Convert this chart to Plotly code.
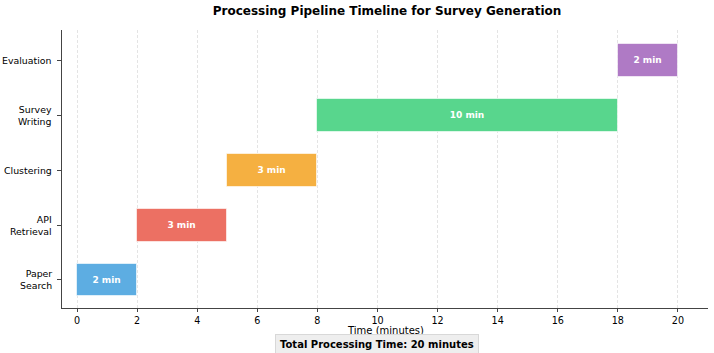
import plotly.graph_objects as go

stages = ["Paper<br>Search", "API<br>Retrieval", "Clustering", "Survey<br>Writing", "Evaluation"]
starts = [0, 2, 5, 8, 18]
durations = [2, 3, 3, 10, 2]
colors = ["#5DADE2", "#EC7063", "#F5B041", "#58D68D", "#AF7AC5"]
total = sum(durations)

fig = go.Figure()
fig.add_trace(go.Bar(
    y=list(range(len(stages))),
    x=durations,
    base=starts,
    orientation="h",
    width=0.6,
    marker=dict(color=colors, line=dict(color="rgba(255,255,255,0.6)", width=1)),
    text=[f"<b>{d} min</b>" for d in durations],
    textposition="inside",
    insidetextanchor="middle",
    textfont=dict(color="white", size=9, family="DejaVu Sans"),
    showlegend=False,
    hoverinfo="skip",
))

# category labels, right aligned like the original
for i, s in enumerate(stages):
    fig.add_annotation(
        text=s, xref="paper", yref="y", x=0, y=i, xanchor="right", yanchor="middle",
        xshift=-8, align="right", showarrow=False, font=dict(size=9.4, color="black"),
    )

fig.update_layout(
    width=714, height=353,
    margin=dict(l=62, r=6, t=30, b=45),
    paper_bgcolor="white", plot_bgcolor="white",
    font=dict(family="DejaVu Sans", size=10, color="black"),
    title=dict(text="<b>Processing Pipeline Timeline for Survey Generation</b>",
               x=0.542, xanchor="center", y=0.968, yanchor="middle",
               font=dict(size=12)),
    bargap=0,
)
fig.update_xaxes(
    range=[-0.5, 21], tickvals=list(range(0, 21, 2)),
    showgrid=True, gridcolor="#e4e4e4", griddash="3px,2px", gridwidth=1,
    showline=True, linecolor="#444", linewidth=1.2, mirror=False,
    ticks="outside", ticklen=3, tickcolor="#444", tickfont=dict(size=9.6),
    zeroline=False, automargin=False, layer="above traces",
)
fig.update_yaxes(
    range=[-0.51, 4.55],
    tickvals=list(range(len(stages))), showticklabels=False,
    showgrid=False, zeroline=False, automargin=False,
    showline=True, linecolor="#444", linewidth=1.2,
    ticks="outside", ticklen=4, tickcolor="#444",
)
# x axis title
fig.add_annotation(
    text="Time (minutes)", xref="paper", yref="paper", x=0.5, y=-0.08,
    xanchor="center", yanchor="middle", showarrow=False, font=dict(size=10, color="black"),
)
fig.add_annotation(
    text=f"<b>Total Processing Time: {total} minutes</b>",
    xref="paper", yref="paper", x=0.488, y=-0.13, xanchor="center", yanchor="middle",
    showarrow=False, font=dict(size=10, color="black"),
    bgcolor="#eeeeee", bordercolor="#d8d8d8", borderwidth=1, borderpad=4,
)

fig.write_html("out.html", config={"displayModeBar": False},
               post_script="document.body.style.margin='0';")
